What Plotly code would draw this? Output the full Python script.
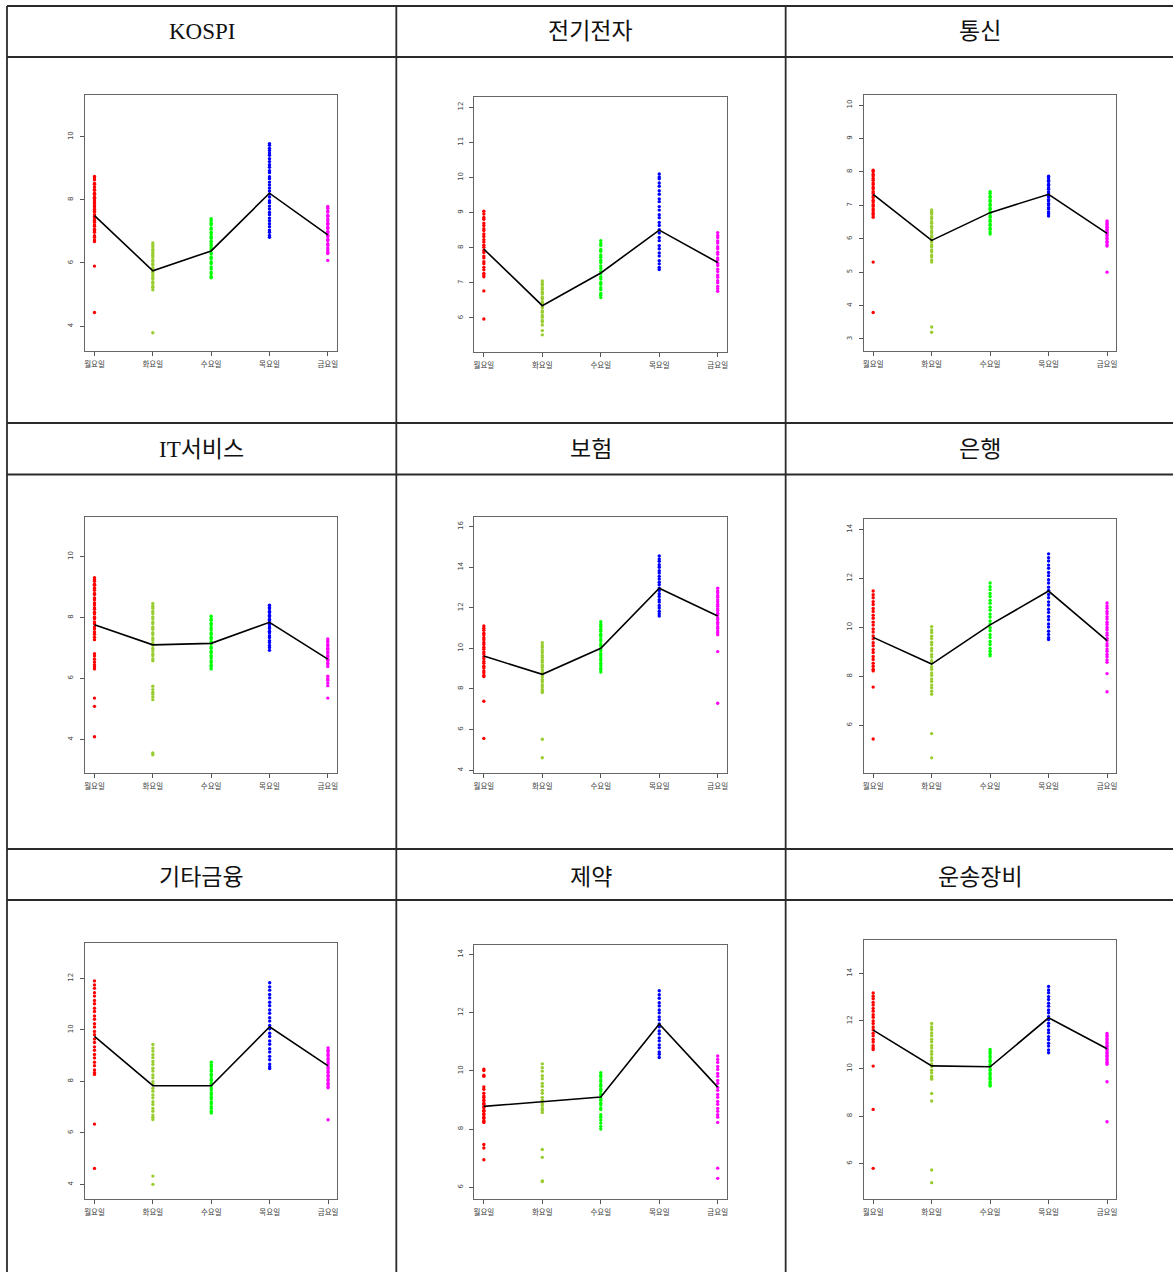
import plotly.graph_objects as go

# ---- labels ----
days = ["월요일", "화요일", "수요일", "목요일", "금요일"]
day_colors = ["#FF0000", "#9ACD32", "#00FF00", "#0000FF", "#FF00FF"]
sectors = ["KOSPI", "전기전자", "통신", "IT서비스", "보험", "은행", "기타금융", "제약", "운송장비"]

# ---- KOSPI ----
kospi_mon = [8.74, 8.69, 8.63, 8.52, 8.49, 8.41, 8.33, 8.30, 8.21, 8.17, 8.08, 8.05, 7.99, 7.94, 7.88, 7.81, 7.78, 7.70,
             7.64, 7.61, 7.53, 7.47, 7.42, 7.35, 7.29, 7.20, 7.16, 7.07, 7.01, 6.97, 6.86, 6.81, 6.73, 6.68, 5.90, 4.43]
kospi_tue = [6.63, 6.57, 6.51, 6.43, 6.38, 6.31, 6.24, 6.19, 6.10, 6.05, 5.97, 5.94, 5.85, 5.81, 5.73, 5.70, 5.62,
             5.54, 5.49, 5.40, 5.36, 5.27, 5.23, 5.15, 3.79]
kospi_wed = [7.40, 7.34, 7.26, 7.21, 7.11, 7.07, 6.97, 6.92, 6.84, 6.78, 6.69, 6.63, 6.56, 6.48, 6.42, 6.32, 6.28,
             6.18, 6.13, 6.03, 5.98, 5.87, 5.81, 5.71, 5.66, 5.57, 5.53]
kospi_thu = [9.78, 9.73, 9.63, 9.56, 9.48, 9.41, 9.30, 9.21, 9.11, 9.03, 8.92, 8.86, 8.73, 8.67, 8.56, 8.47, 8.37,
             8.28, 8.18, 8.09, 7.97, 7.91, 7.80, 7.71, 7.60, 7.53, 7.42, 7.34, 7.24, 7.15, 7.04, 6.97, 6.87, 6.81]
kospi_fri = [7.79, 7.73, 7.65, 7.61, 7.51, 7.48, 7.39, 7.34, 7.26, 7.22, 7.13, 7.09, 7.00, 6.96, 6.88, 6.84, 6.75,
             6.71, 6.61, 6.56, 6.47, 6.41, 6.34, 6.30, 6.08]
kospi_avg = [7.50, 5.75, 6.38, 8.21, 6.89]

# ---- 전기전자 ----
elec_mon = [9.04, 8.96, 8.86, 8.81, 8.70, 8.63, 8.54, 8.49, 8.39, 8.32, 8.23, 8.16, 8.07, 8.01, 7.92, 7.86, 7.76,
            7.71, 7.60, 7.54, 7.44, 7.37, 7.27, 7.22, 7.17, 6.77, 5.97]
elec_tue = [7.05, 6.98, 6.94, 6.86, 6.81, 6.73, 6.68, 6.59, 6.55, 6.46, 6.42, 6.34, 6.29, 6.20, 6.16, 6.07, 6.02,
            5.93, 5.89, 5.80, 5.64, 5.52]
elec_wed = [8.20, 8.12, 8.06, 7.95, 7.90, 7.79, 7.73, 7.64, 7.58, 7.48, 7.41, 7.32, 7.26, 7.17, 7.11, 7.01, 6.96,
            6.86, 6.80, 6.70, 6.65, 6.58]
elec_thu = [10.10, 10.01, 9.96, 9.84, 9.75, 9.62, 9.52, 9.39, 9.31, 9.17, 9.07, 8.94, 8.85, 8.72, 8.63, 8.51, 8.42,
            8.29, 8.20, 8.06, 7.97, 7.85, 7.76, 7.63, 7.54, 7.44, 7.38]
elec_fri = [8.43, 8.35, 8.29, 8.19, 8.13, 8.03, 7.97, 7.87, 7.81, 7.71, 7.65, 7.55, 7.49, 7.39, 7.32, 7.22, 7.16,
            7.06, 7.00, 6.90, 6.84, 6.76]
elec_avg = [7.96, 6.35, 7.28, 8.50, 7.58]

# ---- 통신 ----
tele_mon = [8.05, 8.01, 7.93, 7.88, 7.80, 7.75, 7.67, 7.62, 7.54, 7.49, 7.41, 7.36, 7.28, 7.23, 7.15, 7.10, 7.02,
            6.97, 6.89, 6.84, 6.76, 6.71, 6.64, 5.30, 3.79]
tele_tue = [6.86, 6.79, 6.74, 6.65, 6.60, 6.51, 6.46, 6.37, 6.32, 6.23, 6.18, 6.09, 6.04, 5.95, 5.90, 5.81, 5.76,
            5.66, 5.60, 5.50, 5.45, 5.36, 5.30, 3.36, 3.20]
tele_wed = [7.41, 7.36, 7.28, 7.24, 7.16, 7.12, 7.04, 7.00, 6.92, 6.88, 6.80, 6.76, 6.68, 6.64, 6.56, 6.52, 6.44,
            6.40, 6.32, 6.28, 6.20, 6.14]
tele_thu = [7.87, 7.82, 7.75, 7.71, 7.63, 7.59, 7.52, 7.48, 7.40, 7.37, 7.29, 7.25, 7.17, 7.13, 7.05, 7.01, 6.93,
            6.89, 6.80, 6.75, 6.68]
tele_fri = [6.53, 6.50, 6.44, 6.42, 6.36, 6.34, 6.28, 6.26, 6.20, 6.18, 6.12, 6.09, 6.02, 5.99, 5.92, 5.89, 5.82,
            5.78, 5.00]
tele_avg = [7.33, 5.95, 6.78, 7.33, 6.16]

# ---- IT서비스 ----
its_mon = [9.31, 9.25, 9.19, 9.09, 9.06, 8.96, 8.89, 8.79, 8.75, 8.64, 8.58, 8.48, 8.42, 8.32, 8.27, 8.17, 8.11,
           8.01, 7.96, 7.85, 7.79, 7.69, 7.62, 7.52, 7.45, 7.35, 7.27, 6.81, 6.73, 6.63, 6.54, 6.45, 6.37, 6.31,
           5.35, 5.08, 4.08]
its_tue = [8.46, 8.37, 8.30, 8.20, 8.13, 8.02, 7.96, 7.85, 7.79, 7.68, 7.61, 7.50, 7.44, 7.33, 7.26, 7.16, 7.09,
           6.98, 6.91, 6.81, 6.74, 6.64, 6.58, 5.74, 5.63, 5.54, 5.48, 5.39, 5.30, 3.55, 3.49]
its_wed = [8.04, 7.96, 7.91, 7.81, 7.75, 7.66, 7.60, 7.50, 7.45, 7.35, 7.29, 7.20, 7.14, 7.04, 6.99, 6.89, 6.83,
           6.74, 6.68, 6.58, 6.52, 6.43, 6.38, 6.31]
its_thu = [8.40, 8.33, 8.29, 8.20, 8.16, 8.07, 8.03, 7.94, 7.90, 7.82, 7.77, 7.69, 7.64, 7.55, 7.50, 7.40, 7.34,
           7.24, 7.18, 7.08, 7.01, 6.92]
its_fri = [7.29, 7.23, 7.19, 7.11, 7.07, 6.99, 6.95, 6.87, 6.83, 6.75, 6.71, 6.63, 6.59, 6.51, 6.47, 6.39, 6.07,
           5.99, 5.94, 5.85, 5.76, 5.35]
its_avg = [7.76, 7.10, 7.15, 7.84, 6.63]

# ---- 보험 ----
ins_mon = [11.10, 10.99, 10.89, 10.75, 10.66, 10.52, 10.42, 10.29, 10.19, 10.05, 9.96, 9.82, 9.72, 9.59, 9.49,
           9.35, 9.26, 9.12, 9.03, 8.89, 8.80, 8.66, 8.61, 7.39, 5.56]
ins_tue = [10.28, 10.14, 10.04, 9.89, 9.79, 9.65, 9.55, 9.41, 9.31, 9.17, 9.07, 8.93, 8.83, 8.69, 8.59, 8.45, 8.35,
           8.21, 8.11, 7.97, 7.89, 7.82, 5.52, 4.61]
ins_wed = [11.31, 11.18, 11.08, 10.94, 10.84, 10.70, 10.60, 10.46, 10.36, 10.22, 10.12, 9.98, 9.88, 9.74, 9.64,
           9.50, 9.40, 9.26, 9.16, 9.02, 8.93, 8.83]
ins_thu = [14.56, 14.41, 14.29, 14.12, 14.00, 13.83, 13.71, 13.55, 13.42, 13.26, 13.14, 12.97, 12.85, 12.69, 12.56,
           12.40, 12.28, 12.11, 11.99, 11.83, 11.71, 11.59]
ins_fri = [12.96, 12.83, 12.74, 12.61, 12.52, 12.39, 12.30, 12.17, 12.08, 11.95, 11.86, 11.73, 11.64, 11.51,
           11.42, 11.29, 11.20, 11.07, 10.98, 10.85, 10.77, 10.67, 9.84, 7.29]
ins_avg = [9.62, 8.72, 10.00, 12.96, 11.59]

# ---- 은행 ----
bank_mon = [11.48, 11.33, 11.21, 11.05, 10.93, 10.77, 10.65, 10.49, 10.37, 10.21, 10.09, 9.93, 9.81, 9.65, 9.53,
            9.37, 9.25, 9.09, 8.97, 8.81, 8.69, 8.53, 8.41, 8.29, 8.22, 7.56, 5.44]
bank_tue = [10.03, 9.89, 9.79, 9.64, 9.54, 9.39, 9.29, 9.14, 9.04, 8.89, 8.79, 8.64, 8.54, 8.39, 8.29, 8.14, 8.04,
            7.89, 7.79, 7.64, 7.53, 7.39, 7.27, 5.66, 4.67]
bank_wed = [11.81, 11.66, 11.54, 11.38, 11.26, 11.10, 10.98, 10.82, 10.70, 10.54, 10.42, 10.26, 10.14, 9.98, 9.86,
            9.70, 9.58, 9.42, 9.30, 9.14, 9.02, 8.91, 8.84]
bank_thu = [13.00, 12.84, 12.71, 12.54, 12.41, 12.24, 12.11, 11.94, 11.81, 11.64, 11.51, 11.34, 11.21, 11.04,
            10.91, 10.74, 10.61, 10.44, 10.31, 10.14, 10.01, 9.84, 9.71, 9.58, 9.50]
bank_fri = [10.99, 10.87, 10.78, 10.65, 10.56, 10.43, 10.34, 10.21, 10.12, 9.99, 9.90, 9.77, 9.68, 9.55, 9.46,
            9.33, 9.24, 9.11, 9.02, 8.89, 8.80, 8.67, 8.57, 8.11, 7.37]
bank_avg = [9.59, 8.50, 10.10, 11.48, 9.46]

# ---- 기타금융 ----
fin_mon = [11.90, 11.74, 11.61, 11.44, 11.31, 11.14, 11.01, 10.84, 10.71, 10.54, 10.41, 10.24, 10.11, 9.94, 9.81,
           9.64, 9.51, 9.34, 9.21, 9.04, 8.91, 8.74, 8.61, 8.44, 8.34, 8.27, 6.34, 4.62]
fin_tue = [9.43, 9.29, 9.18, 9.03, 8.92, 8.77, 8.66, 8.51, 8.40, 8.25, 8.14, 7.99, 7.88, 7.73, 7.62, 7.47, 7.36,
           7.21, 7.10, 6.95, 6.84, 6.69, 6.61, 6.52, 4.32, 4.00]
fin_wed = [8.74, 8.64, 8.57, 8.46, 8.39, 8.28, 8.21, 8.10, 8.03, 7.92, 7.85, 7.74, 7.67, 7.56, 7.49, 7.38, 7.31,
           7.20, 7.13, 7.02, 6.95, 6.84, 6.77]
fin_thu = [11.83, 11.67, 11.54, 11.37, 11.24, 11.07, 10.94, 10.77, 10.64, 10.47, 10.34, 10.17, 10.04, 9.87, 9.74,
           9.57, 9.44, 9.27, 9.14, 8.97, 8.84, 8.67, 8.57, 8.50]
fin_fri = [9.30, 9.21, 9.15, 9.05, 8.99, 8.89, 8.83, 8.73, 8.67, 8.57, 8.51, 8.41, 8.35, 8.25, 8.19, 8.09, 8.03,
           7.93, 7.87, 7.79, 7.75, 6.51]
fin_avg = [9.75, 7.83, 7.83, 10.12, 8.60]

# ---- 제약 ----
phar_mon = [10.06, 10.01, 9.85, 9.81, 9.45, 9.37, 9.23, 9.14, 9.09, 9.01, 8.97, 8.89, 8.85, 8.77, 8.73, 8.65,
            8.61, 8.53, 8.49, 8.41, 8.37, 8.29, 8.25, 8.23, 7.47, 7.35, 6.95]
phar_tue = [10.24, 10.11, 9.99, 9.83, 9.73, 9.57, 9.47, 9.33, 9.23, 9.09, 8.99, 8.87, 8.81, 8.71, 8.65, 8.57,
            7.30, 7.03, 6.22, 6.20]
phar_wed = [9.94, 9.85, 9.79, 9.69, 9.63, 9.53, 9.47, 9.37, 9.31, 9.21, 9.15, 9.05, 8.99, 8.89, 8.83, 8.73, 8.67,
            8.49, 8.41, 8.31, 8.21, 8.09, 8.00]
phar_thu = [12.75, 12.61, 12.49, 12.34, 12.23, 12.09, 11.99, 11.85, 11.75, 11.61, 11.51, 11.37, 11.27, 11.13,
            11.03, 10.89, 10.79, 10.65, 10.57, 10.46]
phar_fri = [10.51, 10.39, 10.29, 10.15, 10.05, 9.91, 9.81, 9.67, 9.57, 9.43, 9.33, 9.19, 9.09, 8.95, 8.85, 8.71,
            8.61, 8.49, 8.41, 8.23, 6.66, 6.31]
phar_avg = [8.78, 8.93, 9.10, 11.61, 9.44]

# ---- 운송장비 ----
trans_mon = [13.17, 13.04, 12.93, 12.78, 12.67, 12.52, 12.41, 12.26, 12.15, 12.00, 11.89, 11.74, 11.63, 11.48,
             11.37, 11.22, 11.11, 10.96, 10.87, 10.80, 10.10, 8.28, 5.80]
trans_tue = [11.89, 11.75, 11.64, 11.49, 11.38, 11.23, 11.12, 10.97, 10.86, 10.71, 10.60, 10.45, 10.34, 10.19,
             10.08, 9.93, 9.82, 9.67, 9.61, 9.55, 8.95, 8.63, 5.73, 5.20]
trans_wed = [10.80, 10.70, 10.63, 10.52, 10.45, 10.34, 10.27, 10.16, 10.09, 9.98, 9.91, 9.80, 9.73, 9.62, 9.55,
             9.44, 9.37, 9.29, 9.26]
trans_thu = [13.45, 13.30, 13.18, 13.02, 12.90, 12.74, 12.62, 12.46, 12.34, 12.18, 12.06, 11.90, 11.78, 11.62,
             11.50, 11.34, 11.22, 11.06, 10.94, 10.78, 10.66]
trans_fri = [11.47, 11.39, 11.34, 11.25, 11.20, 11.11, 11.06, 10.97, 10.92, 10.83, 10.78, 10.69, 10.64, 10.55,
             10.50, 10.41, 10.36, 10.27, 10.23, 10.18, 9.44, 7.76]
trans_avg = [11.61, 10.11, 10.07, 12.13, 10.83]

panel_points = [
    [kospi_mon, kospi_tue, kospi_wed, kospi_thu, kospi_fri],
    [elec_mon, elec_tue, elec_wed, elec_thu, elec_fri],
    [tele_mon, tele_tue, tele_wed, tele_thu, tele_fri],
    [its_mon, its_tue, its_wed, its_thu, its_fri],
    [ins_mon, ins_tue, ins_wed, ins_thu, ins_fri],
    [bank_mon, bank_tue, bank_wed, bank_thu, bank_fri],
    [fin_mon, fin_tue, fin_wed, fin_thu, fin_fri],
    [phar_mon, phar_tue, phar_wed, phar_thu, phar_fri],
    [trans_mon, trans_tue, trans_wed, trans_thu, trans_fri],
]
panel_avgs = [kospi_avg, elec_avg, tele_avg, its_avg, ins_avg, bank_avg, fin_avg, phar_avg, trans_avg]

# ---- layout geometry (pixels) ----
W, H = 1174, 1272
# plot box of each panel: (left, right, top, bottom)
boxes = [
    (84.3, 336.7, 95.0, 351.0), (474.3, 727.3, 97.3, 351.7), (864.3, 1117.3, 95.0, 351.0),
    (84.3, 336.7, 516.7, 773.3), (474.3, 727.3, 517.3, 773.3), (864.3, 1117.3, 519.3, 773.3),
    (84.3, 337.0, 943.3, 1199.3), (474.3, 727.3, 945.0, 1199.3), (864.3, 1117.3, 940.0, 1199.3),
]
y_ranges = [(3.21, 11.32), (5.04, 12.28), (2.64, 10.30), (2.88, 11.31), (3.84, 16.46),
            (4.04, 14.41), (3.42, 13.36), (5.59, 14.32), (4.50, 15.40)]
y_dticks = [2, 1, 1, 2, 2, 2, 2, 2, 2]

col_lines = [6, 396, 786]
row_lines = [6, 57, 423, 474.5, 849, 900]
header_centers_y = [32, 450, 877]
col_centers_x = [201, 591, 981]

fig = go.Figure()
layout = dict(
    width=W, height=H, margin=dict(l=0, r=0, t=0, b=0),
    paper_bgcolor="white", plot_bgcolor="white", showlegend=False,
)

for i in range(9):
    sfx = "" if i == 0 else str(i + 1)
    xref, yref = "x" + sfx, "y" + sfx
    left, right, top, bottom = boxes[i]
    for d in range(5):
        vals = panel_points[i][d]
        fig.add_trace(go.Scatter(
            x=[d + 1] * len(vals), y=vals, mode="markers",
            marker=dict(color=day_colors[d], size=3.4, line=dict(width=0)),
            xaxis=xref, yaxis=yref, hoverinfo="y",
        ))
    fig.add_trace(go.Scatter(
        x=[1, 2, 3, 4, 5], y=panel_avgs[i], mode="lines",
        line=dict(color="black", width=1.6), xaxis=xref, yaxis=yref,
    ))
    layout["xaxis" + sfx] = dict(
        domain=[left / W, right / W], anchor=yref, range=[0.84, 5.16],
        tickmode="array", tickvals=[1, 2, 3, 4, 5], ticktext=days,
        ticks="outside", ticklen=4, tickcolor="#555", tickwidth=1,
        ticklabelstandoff=2,
        tickfont=dict(size=7.5, color="#444", family="Noto Sans CJK KR"),
        showline=True, linecolor="#666", linewidth=1, mirror=True,
        showgrid=False, zeroline=False, fixedrange=True,
    )
    lo, hi = y_ranges[i]
    layout["yaxis" + sfx] = dict(
        domain=[1 - bottom / H, 1 - top / H], anchor=xref, range=[lo, hi],
        tickmode="linear", tick0=0, dtick=y_dticks[i], tickangle=-90,
        ticks="outside", ticklen=4, tickcolor="#555", tickwidth=1,
        ticklabelstandoff=4,
        tickfont=dict(size=7, color="#444", family="DejaVu Sans"),
        showline=True, linecolor="#666", linewidth=1, mirror=True,
        showgrid=False, zeroline=False, fixedrange=True,
    )

# table grid
shapes = []
for yl in row_lines:
    shapes.append(dict(type="line", xref="paper", yref="paper",
                       x0=6 / W, x1=1, y0=1 - yl / H, y1=1 - yl / H,
                       line=dict(color="#2a2a2a", width=1.8)))
for xl in col_lines:
    shapes.append(dict(type="line", xref="paper", yref="paper",
                       x0=xl / W, x1=xl / W, y0=0, y1=1 - 6 / H,
                       line=dict(color="#2a2a2a", width=1.8)))
layout["shapes"] = shapes

annotations = []
for i, name in enumerate(sectors):
    r, c = divmod(i, 3)
    annotations.append(dict(
        text=name, xref="paper", yref="paper",
        x=col_centers_x[c] / W, y=1 - header_centers_y[r] / H,
        xanchor="center", yanchor="middle", showarrow=False,
        font=dict(size=23, color="#111", family="Liberation Serif, Noto Sans CJK KR"),
    ))
layout["annotations"] = annotations

fig.update_layout(**layout)
fig.write_html("out.html")
